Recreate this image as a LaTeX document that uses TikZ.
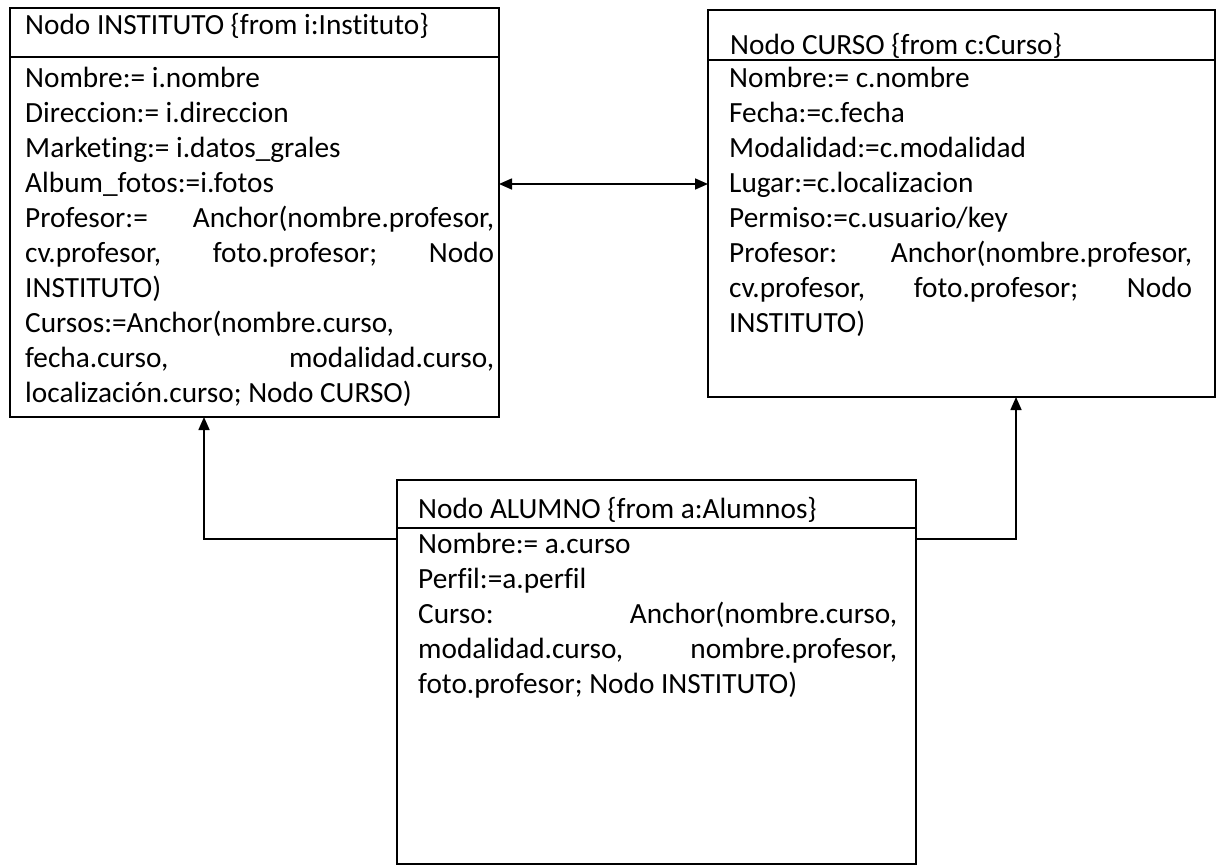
\documentclass[tikz,border=0pt]{standalone}
\usepackage{fontspec}
\setmainfont{Carlito}[Ligatures=CommonOff]
\usetikzlibrary{arrows.meta}
\newcommand\boxfont{\fontsize{29.3}{35}\selectfont}
\tikzset{
  box/.style={draw, line width=1.8pt, rectangle, anchor=north west, inner sep=0pt, outer sep=0pt},
  txt/.style={anchor=base west, inner sep=0pt, font=\boxfont},
  hline/.style={line width=1.5pt},
  arr/.style={line width=1.6pt, -{Triangle[length=13pt,width=11pt]}},
  darr/.style={line width=1.6pt, {Triangle[length=13pt,width=11pt]}-{Triangle[length=13pt,width=11pt]}}
}
\begin{document}
\begin{tikzpicture}[x=1pt,y=-1pt]
\useasboundingbox[fill=white] (0,0) rectangle (1228,867);

% boxes
\node[box, minimum width=489pt, minimum height=409pt] (inst) at (10,8) {};
\node[box, minimum width=507pt, minimum height=387pt] (curso) at (708,10) {};
\node[box, minimum width=519pt, minimum height=384pt] (alum) at (397,480) {};

% header separators
\coordinate (h1) at (0,57);
\coordinate (h2) at (0,60);
\coordinate (h3) at (0,528);
\draw[hline] (inst.west |- h1) -- (inst.east |- h1);
\draw[hline] (curso.west |- h2) -- (curso.east |- h2);
\draw[hline] (alum.west |- h3) -- (alum.east |- h3);

% INSTITUTO
\node[txt] (ih) at (25,35) {Nodo INSTITUTO \{from i:Instituto\}};
\node[txt] (i1) at (25,87) {Nombre:= i.nombre};
\node[txt] (i2) at (25,122) {Direccion:= i.direccion};
\node[txt] (i3) at (25,157) {Marketing:= i.datos\_grales};
\node[txt] (i4) at (25,192) {Album\_fotos:=i.fotos};
\node[txt] (i5) at (25,227) {\makebox[469pt][l]{Profesor:=\hfill Anchor(nombre.profesor,}};
\node[txt] (i6) at (25,262) {\makebox[469pt][l]{cv.profesor,\hfill foto.profesor;\hfill Nodo}};
\node[txt] (i7) at (25,297) {INSTITUTO)};
\node[txt] (i8) at (25,332) {Cursos:=Anchor(nombre.curso,};
\node[txt] (i9) at (25,367) {\makebox[469pt][l]{fecha.curso,\hfill modalidad.curso,}};
\node[txt] (i10) at (25,402) {localización.curso; Nodo CURSO)};

% CURSO
\node[txt] (ch) at (730,55) {Nodo CURSO \{from c:Curso\}};
\node[txt] (c1) at (729,87) {Nombre:= c.nombre};
\node[txt] (c2) at (729,122) {Fecha:=c.fecha};
\node[txt] (c3) at (729,157) {Modalidad:=c.modalidad};
\node[txt] (c4) at (729,192) {Lugar:=c.localizacion};
\node[txt] (c5) at (729,227) {Permiso:=c.usuario/key};
\node[txt] (c6) at (729,262) {\makebox[463pt][l]{Profesor:\hfill Anchor(nombre.profesor,}};
\node[txt] (c7) at (729,297) {\makebox[463pt][l]{cv.profesor,\hfill foto.profesor;\hfill Nodo}};
\node[txt] (c8) at (729,332) {INSTITUTO)};

% ALUMNO
\node[txt] (ah) at (418,518) {Nodo ALUMNO \{from a:Alumnos\}};
\node[txt] (a1) at (418,553) {Nombre:= a.curso};
\node[txt] (a2) at (418,588) {Perfil:=a.perfil};
\node[txt] (a3) at (418,623) {\makebox[479pt][l]{Curso:\hfill Anchor(nombre.curso,}};
\node[txt] (a4) at (418,658) {\makebox[479pt][l]{modalidad.curso,\hfill nombre.profesor,}};
\node[txt] (a5) at (418,693) {foto.profesor; Nodo INSTITUTO)};

% connectors
\coordinate (ya) at (0,184);
\coordinate (yc) at (0,539);
\coordinate (xl) at (204,0);
\coordinate (xr) at (1016,0);
\draw[darr] (inst.east |- ya) -- (curso.west |- ya);
\draw[arr] (alum.west |- yc) -| (inst.south -| xl);
\draw[arr] (alum.east |- yc) -| (curso.south -| xr);
\end{tikzpicture}
\end{document}
